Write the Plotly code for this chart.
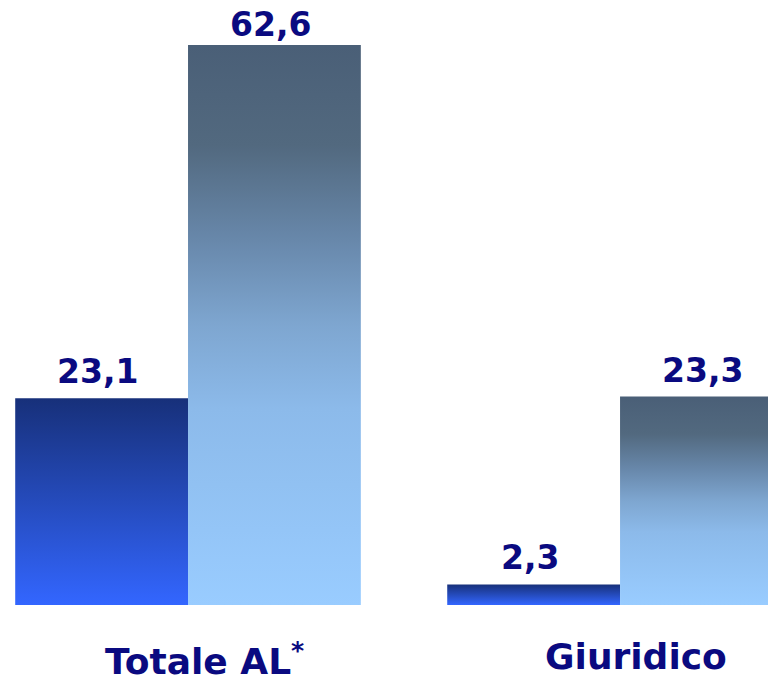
import plotly.graph_objects as go

# ---- data ----
categories = ["Totale AL<sup>*</sup>", "Giuridico"]
series_a = [23.1, 2.3]    # dark blue series
series_b = [62.6, 23.3]   # slate / light blue series

# ---- styles ----
BAR_W = 0.4
Y_MAX = 66.73
PLOT_H = 597              # plot-area height in px
TEXT_COLOR = "#0a0a80"
DARK_SCALE = [[0.0, "#3366ff"], [0.5, "#254bbc"], [1.0, "#17307a"]]
LIGHT_SCALE = [[0.0, "#99ccff"], [0.35, "#8cbaea"], [0.5, "#7ea6d0"],
               [0.65, "#6888ab"], [0.82, "#52697f"], [1.0, "#4a5f77"]]

fig = go.Figure()

def add_bar(i, value, left_offset, scale):
    x0 = i + left_offset
    x1 = x0 + BAR_W
    fig.add_trace(go.Scatter(
        x=[x0, x1, x1, x0, x0],
        y=[0, 0, value, value, 0],
        mode="none",
        fill="toself",
        fillgradient=dict(type="vertical", colorscale=scale, start=0, stop=value),
        hoverinfo="skip",
        showlegend=False,
    ))
    # keep the label inside the figure when the bar is close to the top
    room_px = (Y_MAX - value) * PLOT_H / Y_MAX
    fig.add_annotation(
        x=(x0 + x1) / 2, y=value, xref="x", yref="y",
        text=f"{value:.1f}".replace(".", ","),
        showarrow=False, yanchor="bottom", xanchor="center",
        xshift=-4, yshift=min(5, room_px - 38),
        font=dict(family="DejaVu Sans", size=33, color=TEXT_COLOR, weight="bold"),
    )

for i, (a, b) in enumerate(zip(series_a, series_b)):
    add_bar(i, a, -BAR_W, DARK_SCALE)
    add_bar(i, b, 0.0, LIGHT_SCALE)

for i, cat in enumerate(categories):
    fig.add_annotation(
        x=i, y=0, xref="x", yref="paper",
        text=cat, showarrow=False, yanchor="top", xanchor="center",
        xshift=16, yshift=-29,
        font=dict(family="DejaVu Sans", size=36, color=TEXT_COLOR, weight="bold"),
    )

fig.update_layout(
    width=768, height=673,
    margin=dict(l=0, r=0, t=0, b=673 - PLOT_H),
    paper_bgcolor="white", plot_bgcolor="white",
    xaxis=dict(range=[-0.4167, 1.361], visible=False, fixedrange=True),
    yaxis=dict(range=[0, Y_MAX], visible=False, fixedrange=True),
    showlegend=False,
)

fig.write_html("out.html")
